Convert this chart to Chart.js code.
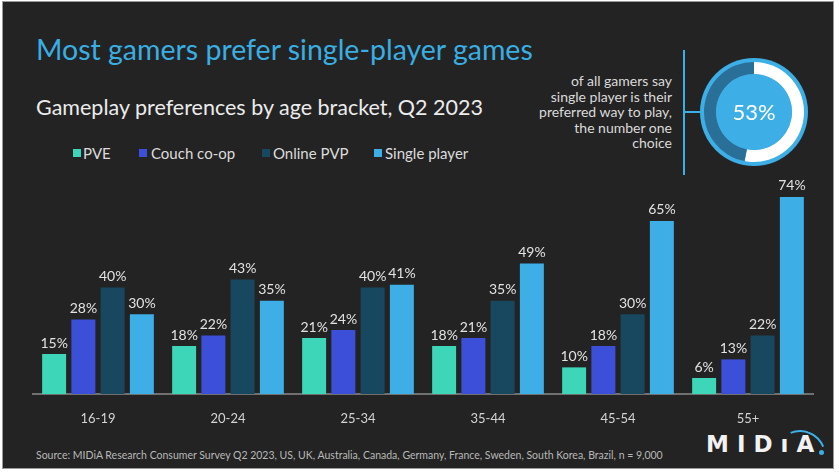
<!DOCTYPE html>
<html>
<head>
<meta charset="utf-8">
<script src="https://cdn.jsdelivr.net/npm/chart.js@4"></script>
<style>
  html, body { margin: 0; padding: 0; background: #ffffff; }
  body { width: 839px; height: 474px; position: relative; overflow: hidden; font-family: Lato, "Noto Sans", sans-serif; }
  #slide { position: absolute; left: 2px; top: 1px; width: 830px; height: 466px; background: #232323; border: 1px solid #9a9a9a; }
  .abs { position: absolute; white-space: nowrap; }
  #title { left: 36px; top: 32px; font-size: 28.5px; color: #3aaee2; }
  #subtitle { left: 36px; top: 94px; font-size: 21.5px; color: #ececec; }
  .leg { top: 144px; font-size: 15px; color: #dcdcdc; }
  .sw { position: absolute; width: 8px; height: 8px; top: 149px; }
  #callout { right: 167px; top: 73px; font-size: 14px; line-height: 15.5px; color: #dadada; text-align: right; }
  #vline { left: 683px; top: 50px; width: 2px; height: 125px; background: #3daee6; }
  #hline { left: 684px; top: 111px; width: 17px; height: 2px; background: #3daee6; }
  #source { left: 36px; top: 449px; font-size: 10.5px; color: #b8b8b8; }
  #logo { left: 706px; top: 433px; font-family: "DejaVu Sans", sans-serif; font-size: 23px; line-height: 23px; font-weight: 700; color: #f2f2f2; letter-spacing: 8px; }
  #arc { left: 774px; top: 430px; width: 52px; height: 52px; border-radius: 50%; border: 2px solid transparent; border-top-color: #3daee6; transform: rotate(23deg); box-sizing: border-box; }
  #dot { left: 819px; top: 450px; width: 5px; height: 5px; border-radius: 50%; background: #3daee6; }
  #bars { position: absolute; left: 0; top: 170px; }
  #donut { position: absolute; left: 700px; top: 58px; }
</style>
</head>
<body>
<div id="slide"></div>
<div class="abs" id="title">Most gamers prefer single-player games</div>
<div class="abs" id="subtitle">Gameplay preferences by age bracket, Q2 2023</div>

<div class="sw" style="left:73px;background:#3dd6b8"></div><div class="abs leg" style="left:83px">PVE</div>
<div class="sw" style="left:139px;background:#3b4fd8"></div><div class="abs leg" style="left:151px">Couch co-op</div>
<div class="sw" style="left:262px;background:#18485f"></div><div class="abs leg" style="left:273px">Online PVP</div>
<div class="sw" style="left:374px;background:#3daee6"></div><div class="abs leg" style="left:385px">Single player</div>

<div class="abs" id="callout">of all gamers say<br>single player is their<br>preferred way to play,<br>the number one<br>choice</div>
<div class="abs" id="vline"></div>
<div class="abs" id="hline"></div>

<canvas id="donut" width="108" height="108"></canvas>
<canvas id="bars" width="839" height="260"></canvas>

<div class="abs" id="source">Source: MIDiA Research Consumer Survey Q2 2023, US, UK, Australia, Canada, Germany, France, Sweden, South Korea, Brazil, n = 9,000</div>
<div class="abs" id="logo">MIDıA</div>
<div class="abs" id="arc"></div>
<div class="abs" id="dot"></div>

<script>
const ageBrackets = ['16-19', '20-24', '25-34', '35-44', '45-54', '55+'];
const pve = [15, 18, 21, 18, 10, 6];
const couchCoop = [28, 22, 24, 21, 18, 13];
const onlinePvp = [40, 43, 40, 35, 30, 22];
const singlePlayer = [30, 35, 41, 49, 65, 74];
const singlePlayerShare = 53;

const seriesNames = ['PVE', 'Couch co-op', 'Online PVP', 'Single player'];
const seriesColors = ['#3dd6b8', '#3b4fd8', '#18485f', '#3daee6'];
const seriesData = [pve, couchCoop, onlinePvp, singlePlayer];

// value labels above each bar
const valueLabels = {
  id: 'valueLabels',
  afterDatasetsDraw(chart) {
    const ctx = chart.ctx;
    ctx.save();
    ctx.font = '14px Lato, "Noto Sans", sans-serif';
    ctx.fillStyle = '#e2e2e2';
    ctx.textAlign = 'center';
    ctx.textBaseline = 'bottom';
    chart.data.datasets.forEach((ds, i) => {
      chart.getDatasetMeta(i).data.forEach((bar, j) => {
        ctx.fillText(ds.data[j] + '%', bar.x, bar.y - 4);
      });
    });
    ctx.restore();
  }
};

new Chart(document.getElementById('bars'), {
  type: 'bar',
  data: {
    labels: ageBrackets,
    datasets: seriesNames.map((name, i) => ({
      label: name,
      data: seriesData[i],
      backgroundColor: seriesColors[i],
      barPercentage: 0.82,
      categoryPercentage: 0.9
    }))
  },
  options: {
    responsive: false,
    animation: false,
    layout: { padding: { left: 33, right: 26, top: 11, bottom: 0 } },
    plugins: { legend: { display: false }, tooltip: { enabled: false } },
    scales: {
      y: { display: false, min: 0, max: 80 },
      x: {
        grid: { display: false },
        border: { display: true, color: '#707070', width: 2 },
        ticks: { color: '#d4d4d4', font: { size: 13, family: 'Lato, "Noto Sans", sans-serif' }, padding: 9 },
        afterFit(scale) { scale.height = 36; }
      }
    }
  },
  plugins: [valueLabels]
});

// ring with border and centre fill
const ringDecor = {
  id: 'ringDecor',
  beforeDatasetsDraw(chart) {
    const ctx = chart.ctx;
    const arc = chart.getDatasetMeta(0).data[0];
    ctx.save();
    ctx.fillStyle = '#3daee6';
    ctx.beginPath();
    ctx.arc(arc.x, arc.y, 54, 0, Math.PI * 2);
    ctx.fill();
    ctx.restore();
  },
  afterDatasetsDraw(chart) {
    const ctx = chart.ctx;
    const arc = chart.getDatasetMeta(0).data[0];
    ctx.save();
    ctx.fillStyle = '#3daee6';
    ctx.beginPath();
    ctx.arc(arc.x, arc.y, arc.innerRadius, 0, Math.PI * 2);
    ctx.fill();
    ctx.font = '22px Lato, "Noto Sans", sans-serif';
    ctx.fillStyle = '#ffffff';
    ctx.textAlign = 'center';
    ctx.textBaseline = 'middle';
    ctx.fillText(singlePlayerShare + '%', arc.x, arc.y + 1);
    ctx.restore();
  }
};

new Chart(document.getElementById('donut'), {
  type: 'doughnut',
  data: {
    labels: ['Single player', 'Other'],
    datasets: [{
      data: [singlePlayerShare, 100 - singlePlayerShare],
      backgroundColor: ['#ffffff', '#2a6f98'],
      borderWidth: 0
    }]
  },
  options: {
    responsive: false,
    animation: false,
    radius: 50,
    cutout: 41,
    plugins: { legend: { display: false }, tooltip: { enabled: false } }
  },
  plugins: [ringDecor]
});
</script>
</body>
</html>
